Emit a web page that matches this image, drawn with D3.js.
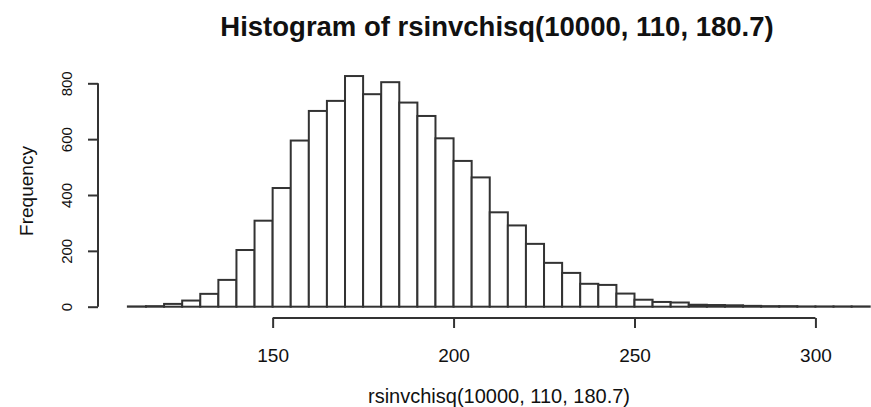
<!DOCTYPE html>
<html>
<head>
<meta charset="utf-8">
<script src="https://cdn.jsdelivr.net/npm/d3@7"></script>
<style>
body { margin: 0; background: #fff; }
text { font-family: "Liberation Sans", Arial, sans-serif; fill: #111; }
</style>
</head>
<body>
<script>
// bin edges and counts
let breaks = [110, 115, 120, 125, 130, 135, 140, 145, 150, 155, 160, 165, 170, 175,
              180, 185, 190, 195, 200, 205, 210, 215, 220, 225, 230, 235, 240, 245,
              250, 255, 260, 265, 270, 275, 280, 285, 290, 295, 300, 305, 310, 315];
let counts = [1, 2, 10, 22, 46, 96, 203, 308, 425, 595, 701, 737, 826, 761,
              804, 731, 683, 603, 522, 463, 338, 291, 225, 157, 121, 82, 78, 47,
              25, 17, 15, 7, 6, 5, 3, 2, 2, 1, 1, 1, 1];
let xTicks = [150, 200, 250, 300];
let yTicks = [0, 200, 400, 600, 800];
let title = "Histogram of rsinvchisq(10000, 110, 180.7)";
let xLabel = "rsinvchisq(10000, 110, 180.7)";
let yLabel = "Frequency";

let svg = d3.select("body")
            .append("svg")
            .attr("width", 871)
            .attr("height", 407);

let x = d3.scaleLinear().domain([110, 315]).range([127.9, 869.7]);
let y = d3.scaleLinear().domain([0, 800]).range([306.7, 83.3]);

let bins = counts.map((c, i) => ({ x0: breaks[i], x1: breaks[i + 1], count: c }));

svg.append("g")
   .selectAll("rect")
   .data(bins)
   .enter()
   .append("rect")
   .attr("x", d => x(d.x0))
   .attr("y", d => y(d.count))
   .attr("width", d => x(d.x1) - x(d.x0))
   .attr("height", d => y(0) - y(d.count))
   .style("fill", "#fff")
   .style("stroke", "#333")
   .style("stroke-width", 2);

// x axis, R style: line only across the tick range
let xAxis = svg.append("g")
               .attr("transform", "translate(0, 318)")
               .call(d3.axisBottom(x).tickValues(xTicks).tickSize(10).tickSizeOuter(0));
xAxis.select(".domain").attr("d", "M" + x(xTicks[0]) + ",0H" + x(xTicks[xTicks.length - 1]));
xAxis.selectAll("text")
     .attr("y", 44)
     .attr("dy", 0)
     .attr("font-size", 19);

let yAxis = svg.append("g")
               .attr("transform", "translate(98, 0)")
               .call(d3.axisLeft(y).tickValues(yTicks).tickSize(10).tickSizeOuter(0));
yAxis.select(".domain").attr("d", "M0," + y(0) + "V" + y(800));
yAxis.selectAll("text")
     .attr("x", 0)
     .attr("y", 0)
     .attr("dy", 0)
     .attr("font-size", 15)
     .attr("text-anchor", "middle")
     .attr("transform", "translate(-26, 0) rotate(-90)");

svg.selectAll(".domain, .tick line")
   .style("stroke", "#333")
   .style("stroke-width", 2);
svg.selectAll(".tick text").style("font-family", "'Liberation Sans', Arial, sans-serif");

svg.append("text")
   .attr("x", 497)
   .attr("y", 36)
   .attr("text-anchor", "middle")
   .attr("font-weight", "bold")
   .attr("font-size", 27.5)
   .text(title);

svg.append("text")
   .attr("x", 499)
   .attr("y", 403)
   .attr("text-anchor", "middle")
   .attr("font-size", 20)
   .text(xLabel);

svg.append("text")
   .attr("transform", "translate(33, 191) rotate(-90)")
   .attr("text-anchor", "middle")
   .attr("font-size", 19)
   .text(yLabel);
</script>
</body>
</html>
